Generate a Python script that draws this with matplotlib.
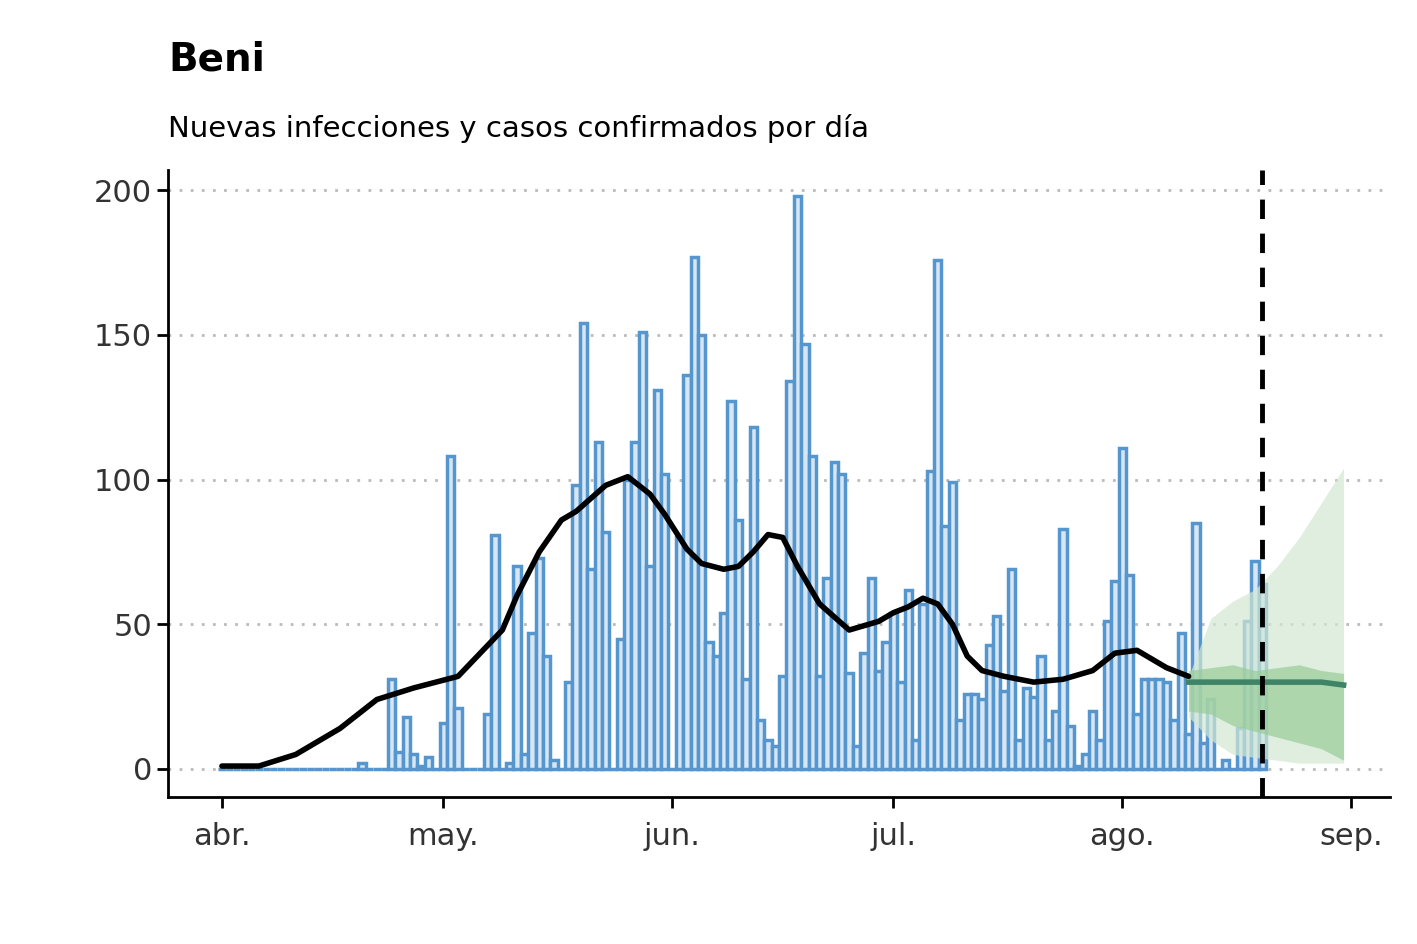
import numpy as np
import matplotlib.pyplot as plt

# daily confirmed cases, day 0 = 1 April
cases = ([0] * 19 + [2, 0, 0, 0,
         31, 6, 18, 5, 1, 4, 0, 16, 108, 21, 0, 0, 0, 19, 81, 0, 2, 70, 5, 47,
         73, 39, 3, 0, 30, 98, 154, 69, 113, 82, 0, 45, 100, 113, 151, 70, 131,
         102, 0, 80, 136, 177, 150, 44, 39, 54, 127, 86, 31, 118, 17, 10, 8, 32,
         134, 198, 147, 108, 32, 66, 106, 102, 33, 8, 40, 66, 34, 44, 54, 30,
         62, 10, 57, 103, 176, 84, 99, 17, 26, 26, 24, 43, 53, 27, 69, 10, 28,
         25, 39, 10, 20, 83, 15, 1, 5, 20, 10, 51, 65, 111, 67, 19, 31, 31, 31,
         30, 17, 47, 12, 85, 9, 24, 0, 3, 0, 14, 51, 72, 64])

# estimated new infections (smoothed curve)
inf_day = [0, 5, 10, 16, 21, 26, 32, 35, 38, 40, 43, 46, 48, 52, 55, 58, 60,
           63, 65, 68, 70, 72, 74, 76, 78, 81, 85, 89, 91, 93, 95, 97, 99, 101,
           103, 106, 110, 114, 118, 121, 124, 128, 131]
inf_val = [1, 1, 5, 14, 24, 28, 32, 40, 48, 60, 75, 86, 89, 98, 101, 95, 88,
           76, 71, 69, 70, 75, 81, 80, 70, 57, 48, 51, 54, 56, 59, 57, 50, 39,
           34, 32, 30, 31, 34, 40, 41, 35, 32]

# forecast
fc_day = [131, 134, 137, 140, 143, 146, 149, 152]
fc_med = [30, 30, 30, 30, 30, 30, 30, 29]
fc_in_lo = [20, 19, 15, 13, 11, 9, 7, 3]
fc_in_hi = [34, 35, 36, 34, 35, 36, 34, 33]
fc_out_lo = [18, 10, 5, 4, 3, 2, 2, 2]
fc_out_hi = [32, 52, 58, 62, 70, 80, 92, 104]

ticks = [0, 30, 61, 91, 122, 153]
tick_labels = ['abr.', 'may.', 'jun.', 'jul.', 'ago.', 'sep.']
today = 141

fig = plt.figure(figsize=(14.17, 9.44), dpi=100)
ax = fig.add_axes([0.1186, 0.1557, 0.8624, 0.6643])

for y in range(0, 201, 50):
    ax.axhline(y, color='#bbbbbb', linestyle=(0, (1, 3)), linewidth=2, zorder=0)

days = np.arange(len(cases))
ax.bar(days, cases, width=1, facecolor='#d6e6f4', edgecolor='#5596cf',
       linewidth=2.5, zorder=1)

ax.fill_between(fc_day, fc_out_lo, fc_out_hi, color='#d2e8d2', alpha=0.7,
                linewidth=0, zorder=2)
ax.fill_between(fc_day, fc_in_lo, fc_in_hi, color='#98cc98', alpha=0.7,
                linewidth=0, zorder=3)
ax.plot(fc_day, fc_med, color='#3f8466', linewidth=4, zorder=4)

ax.plot(inf_day, inf_val, color='black', linewidth=4, zorder=5,
        solid_capstyle='round')
ax.axvline(today, color='black', linestyle=(0, (4, 3)), linewidth=3.5, zorder=6)

ax.set_xlim(-7.3, 158.3)
ax.set_ylim(-9.7, 207)
ax.set_xticks(ticks)
ax.set_xticklabels(tick_labels)
ax.set_yticks(range(0, 201, 50))
ax.tick_params(axis='both', labelsize=22, width=2, length=8, colors='black',
               labelcolor='#333333')
ax.tick_params(axis='x', pad=10)
for s in ['top', 'right']:
    ax.spines[s].set_visible(False)
for s in ['left', 'bottom']:
    ax.spines[s].set_linewidth(2)

fig.text(0.1186, 0.925, 'Beni', fontsize=28, fontweight='bold', va='baseline')
fig.text(0.1186, 0.855, 'Nuevas infecciones y casos confirmados por día',
         fontsize=21, va='baseline')

fig.savefig('out.png', dpi=100)
